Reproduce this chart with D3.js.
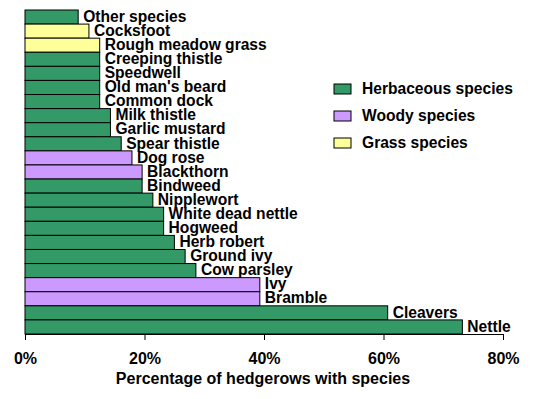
<!DOCTYPE html>
<html>
<head>
<meta charset="utf-8">
<script src="https://cdn.jsdelivr.net/npm/d3@7"></script>
<style>
  body { margin: 0; background: #fff; }
  svg text { font-family: Arial, "Liberation Sans", sans-serif; fill: #000; font-weight: bold; }
</style>
</head>
<body>
<svg id="chart" width="537" height="399"></svg>
<script>
// species, top to bottom
const species = ["Other species", "Cocksfoot", "Rough meadow grass", "Creeping thistle", "Speedwell",
  "Old man's beard", "Common dock", "Milk thistle", "Garlic mustard", "Spear thistle", "Dog rose",
  "Blackthorn", "Bindweed", "Nipplewort", "White dead nettle", "Hogweed", "Herb robert",
  "Ground ivy", "Cow parsley", "Ivy", "Bramble", "Cleavers", "Nettle"];
const shares = [0.089, 0.107, 0.125, 0.125, 0.125, 0.125, 0.125, 0.143, 0.143, 0.161, 0.179,
  0.196, 0.196, 0.214, 0.232, 0.232, 0.25, 0.268, 0.286, 0.393, 0.393, 0.607, 0.732];
const groups = ["h", "g", "g", "h", "h", "h", "h", "h", "h", "h", "w",
  "w", "h", "h", "h", "h", "h", "h", "h", "w", "w", "h", "h"];
const xTicks = [0, 0.2, 0.4, 0.6, 0.8];
const legendKeys = ["h", "w", "g"];
const legendNames = ["Herbaceous species", "Woody species", "Grass species"];

const colour = d3.scaleOrdinal().domain(["h", "w", "g"]).range(["#339966", "#cc99ff", "#ffff99"]);

const svg = d3.select("#chart");
const x = d3.scaleLinear().domain([0, 0.8]).range([25, 503]);
const y = d3.scaleBand().domain(species).range([10, 334]).padding(0);

const rows = species.map((s, i) => ({ name: s, v: shares[i], g: groups[i] }));

svg.selectAll("rect.bar")
  .data(rows)
  .enter()
  .append("rect")
  .attr("class", "bar")
  .attr("x", x(0))
  .attr("y", d => y(d.name))
  .attr("width", d => x(d.v) - x(0))
  .attr("height", y.bandwidth())
  .attr("fill", d => colour(d.g))
  .attr("stroke", "#000")
  .attr("stroke-width", 1);

svg.selectAll("text.lbl")
  .data(rows)
  .enter()
  .append("text")
  .attr("class", "lbl")
  .attr("x", d => x(d.v) + 5)
  .attr("y", d => y(d.name) + y.bandwidth() / 2)
  .attr("dy", "0.3em")
  .style("font-size", "15.6px")
  .text(d => d.name);

const axis = d3.axisBottom(x)
  .tickValues(xTicks)
  .tickFormat(d3.format(".0%"))
  .tickSize(6)
  .tickSizeOuter(0)
  .tickPadding(13);

const gx = svg.append("g").attr("transform", "translate(0,334)").call(axis);
gx.select(".domain").attr("stroke", "#000");
gx.selectAll(".tick line").attr("stroke", "#000");
gx.selectAll(".tick text")
  .style("font-size", "16px")
  .style("font-family", "Arial, 'Liberation Sans', sans-serif")
  .style("font-weight", "bold")
  .attr("fill", "#000");

svg.append("text")
  .attr("x", 263)
  .attr("y", 384)
  .attr("text-anchor", "middle")
  .style("font-size", "16px")
  .text("Percentage of hedgerows with species");

const legend = svg.selectAll("g.leg")
  .data(legendKeys)
  .enter()
  .append("g")
  .attr("class", "leg")
  .attr("transform", (d, i) => `translate(334,${84 + i * 27})`);

legend.append("rect")
  .attr("width", 17)
  .attr("height", 10)
  .attr("fill", d => colour(d))
  .attr("stroke", "#000");

legend.append("text")
  .attr("x", 28)
  .attr("y", 5)
  .attr("dy", "0.35em")
  .style("font-size", "15.6px")
  .text((d, i) => legendNames[i]);
</script>
</body>
</html>
